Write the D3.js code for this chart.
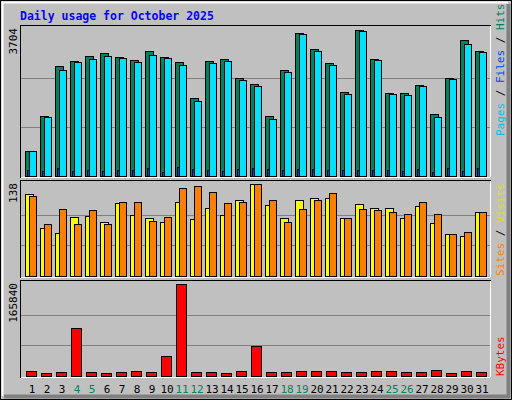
<!DOCTYPE html>
<html><head><meta charset="utf-8">
<script src="https://cdn.jsdelivr.net/npm/d3@7"></script>
<style>body{margin:0;background:#fff}</style>
</head><body><div class="chart"></div>
<script>
let days = d3.range(1, 32);
let weekends = [4, 5, 11, 12, 18, 19, 25, 26];
let hits = [625,1517,2767,2892,3017,3092,2992,2917,3142,2992,2867,1967,2892,2942,2467,2317,1517,2667,3592,3192,2842,2117,3667,2942,2092,2092,2292,1567,2467,3417,3142];
let files = [625,1492,2667,2867,2942,3017,2967,2867,3042,2967,2792,1892,2842,2892,2417,2267,1442,2617,3567,3142,2792,2067,3642,2917,2067,2042,2267,1492,2442,3317,3117];
let pages = [150,117,200,117,150,117,150,150,200,100,225,175,150,117,175,200,175,150,175,175,150,150,150,150,150,125,175,100,200,125,200];
let visits = [123,72,65,89,90,81,110,92,87,81,111,86,102,92,114,138,107,87,114,117,117,87,108,102,102,87,105,80,63,60,96];
let sites = [120,78,101,78,99,78,111,111,83,89,132,135,126,110,111,138,114,81,101,114,125,87,101,99,96,93,111,93,63,66,96];
let kbytes = [9649,6031,7840,85634,7840,6031,7840,9649,7840,36786,165840,7840,7840,6031,9649,54878,7840,7840,9649,9649,9649,7840,7840,9649,9649,7840,7840,11458,6031,9649,7840];

let W = 512, H = 400;
let svg = d3.select('.chart').append('svg').attr('width', W).attr('height', H)
  .style('font-family', "'DejaVu Sans Mono', monospace");

// frame
svg.append('rect').attr('width', W).attr('height', H).attr('fill', '#c0c0c0');
svg.append('rect').attr('x', 0.5).attr('y', 0.5).attr('width', W - 1).attr('height', H - 1)
  .attr('fill', 'none').attr('stroke', '#000');
svg.append('path').attr('d', 'M2.5,396V2.5H508').attr('fill', 'none').attr('stroke', '#fff').attr('stroke-width', 2);
svg.append('path').attr('d', 'M4,396.5H508.5V4').attr('fill', 'none').attr('stroke', '#808080').attr('stroke-width', 4);

svg.append('text').attr('x', 20).attr('y', 20).attr('fill', '#0000ff')
  .attr('font-size', '11.5px').attr('font-weight', 'bold').text('Daily usage for October 2025');

let x = d3.scaleLinear().domain([1, 32]).range([25, 490]);

function panel(top, bottom, max, label) {
  let y = d3.scaleLinear().domain([0, max]).range([bottom, bottom - (bottom - top - 4)]);
  svg.append('rect').attr('x', 20.5).attr('y', top + 0.5).attr('width', 470).attr('height', bottom - top + 1)
    .attr('fill', '#c0c0c0').attr('stroke', '#000');
  svg.append('path').attr('d', `M21,${bottom + 1.5}H490.5V${top + 1}`).attr('fill', 'none').attr('stroke', '#fff');
  [1 / 3, 2 / 3].forEach(f => {
    svg.append('line').attr('x1', 21).attr('x2', 490).attr('y1', Math.round(y(max * f)) + 0.5).attr('y2', Math.round(y(max * f)) + 0.5)
      .attr('stroke', '#808080');
  });
  svg.append('text').attr('transform', `translate(17,${top + 3}) rotate(-90)`).attr('text-anchor', 'end')
    .attr('font-size', '11px').attr('fill', '#000').text(label);
  return y;
}

function bars(y, data, dx, w, color) {
  svg.append('g').selectAll('rect').data(data).join('rect')
    .attr('x', (d, i) => x(days[i]) + dx + 0.5)
    .attr('y', d => Math.round(y(d)) + 0.5)
    .attr('width', w)
    .attr('height', d => Math.max(0, Math.round(y(0)) - Math.round(y(d))))
    .attr('fill', color).attr('stroke', '#000');
}

let y1 = panel(25, 176, 3704, '3704');
bars(y1, hits, 0, 8, '#00805c');
bars(y1, files, 4, 7, '#00e0ff');
bars(y1, pages, 2, 2, '#0040ff');

let y2 = panel(180, 276, 138, '138');
bars(y2, visits, 0, 8, '#ffff00');
bars(y2, sites, 4, 7, '#ff8000');

let y3 = panel(280, 376, 165840, '165840');
bars(y3, kbytes, 1, 10, '#ff0000');

// day labels
svg.append('g').selectAll('text').data(days).join('text')
  .attr('x', d => x(d) + 7).attr('y', 393).attr('text-anchor', 'middle')
  .attr('font-size', '11px')
  .attr('fill', d => weekends.includes(d) ? '#00805c' : '#000')
  .text(d => d);

// rotated legends
function legend(yEnd, parts) {
  let t = svg.append('text').attr('transform', `translate(504,${yEnd}) rotate(-90)`)
    .attr('font-size', '11px');
  parts.forEach(p => t.append('tspan').attr('fill', p[1]).text(p[0]));
}
legend(136, [['Pages', '#00c0e0'], [' / ', '#000'], ['Files', '#0040ff'], [' / ', '#000'], ['Hits', '#00805c']]);
legend(276, [['Sites', '#ff8000'], [' / ', '#000'], ['Visits', '#e0e000']]);
legend(376, [['KBytes', '#ff0000']]);
</script>
</body></html>
